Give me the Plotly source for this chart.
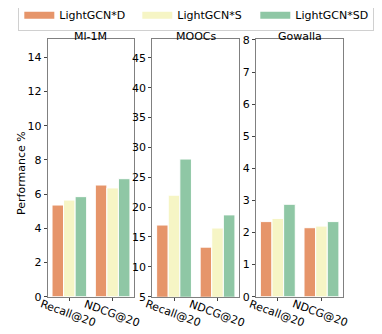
import plotly.graph_objects as go
from plotly.subplots import make_subplots

metrics = ["Recall@20", "NDCG@20"]
datasets = ["Ml-1M", "MOOCs", "Gowalla"]
methods = ["LightGCN*D", "LightGCN*S", "LightGCN*SD"]
colors = ["#E6956A", "#F6F5C5", "#8FC7A5"]

ml1m = {"LightGCN*D": [5.36, 6.53], "LightGCN*S": [5.65, 6.36], "LightGCN*SD": [5.85, 6.9]}
moocs = {"LightGCN*D": [17.0, 13.3], "LightGCN*S": [22.0, 16.5], "LightGCN*SD": [28.05, 18.7]}
gowalla = {"LightGCN*D": [2.34, 2.15], "LightGCN*S": [2.44, 2.2], "LightGCN*SD": [2.88, 2.34]}

y_ranges = [[0, 15.05], [5, 48.1], [0, 8.02]]
y_ticks = [list(range(0, 15, 2)), list(range(5, 46, 5)), list(range(0, 9))]

fig = make_subplots(rows=1, cols=3, subplot_titles=datasets)

for col, data in enumerate([ml1m, moocs, gowalla], start=1):
    for m, c in zip(methods, colors):
        fig.add_trace(
            go.Bar(
                x=metrics, y=data[m], name=m,
                marker=dict(color=c, line=dict(color="white", width=1)),
                showlegend=False,
                offsetgroup=m,
            ),
            row=1, col=col
        )

# legend swatches as wide rectangles (legend-only line traces)
for m, c in zip(methods, colors):
    fig.add_trace(
        go.Scatter(x=[None], y=[None], mode="lines", name=m,
                   line=dict(color=c, width=7), showlegend=True),
        row=1, col=1
    )

font = "DejaVu Sans, Arial, sans-serif"
x_domains = [[0.1039, 0.3306], [0.3777, 0.6055], [0.6492, 0.8777]]
y_domain = [0.1356, 0.9063]
for i in range(3):
    fig.update_xaxes(
        domain=x_domains[i], range=[-0.5, 1.5], showticklabels=False,
        showline=True, mirror=True, linecolor="#808080", linewidth=1,
        ticks="outside", ticklen=3, tickcolor="#444", automargin=False,
        row=1, col=i + 1
    )
    fig.update_yaxes(
        domain=y_domain, range=y_ranges[i], tickvals=y_ticks[i],
        showline=True, mirror=True, linecolor="#808080", linewidth=1,
        ticks="outside", ticklen=3, tickcolor="#444", showgrid=False,
        zeroline=False, tickfont=dict(size=11, color="black"),
        automargin=False, row=1, col=i + 1
    )
    # rotated category labels, centred under each tick
    xref = "x" if i == 0 else "x%d" % (i + 1)
    for m in metrics:
        fig.add_annotation(
            x=m, y=y_domain[0], xref=xref, yref="paper",
            text=m, showarrow=False, textangle=20,
            xanchor="center", yanchor="middle", xshift=-1, yshift=-17,
            font=dict(size=11, color="black", family=font)
        )

# subplot titles centred over the custom domains
for ann, dom in zip(fig.layout.annotations[:3], x_domains):
    ann.font = dict(size=11, color="black", family=font)
    ann.x = (dom[0] + dom[1]) / 2
    ann.y = y_domain[1]
    ann.yshift = -6

# shared y label
fig.add_annotation(
    x=0.0366, y=0.506, xref="paper", yref="paper", text="Performance %",
    showarrow=False, textangle=-90, xanchor="center", yanchor="middle",
    font=dict(size=11, color="black", family=font)
)

fig.update_layout(
    width=382, height=334,
    margin=dict(l=0, r=0, t=0, b=0, autoexpand=False),
    plot_bgcolor="white", paper_bgcolor="white",
    barmode="group", bargap=0.2, bargroupgap=0,
    font=dict(family=font, size=11, color="black"),
    legend=dict(
        orientation="h", x=0.027, y=1.025, xanchor="left", yanchor="top",
        bordercolor="#d0d0d0", borderwidth=1, itemwidth=30,
        entrywidth=73, entrywidthmode="pixels",
        font=dict(size=11, color="black"),
    ),
)

fig.write_html("out.html")
